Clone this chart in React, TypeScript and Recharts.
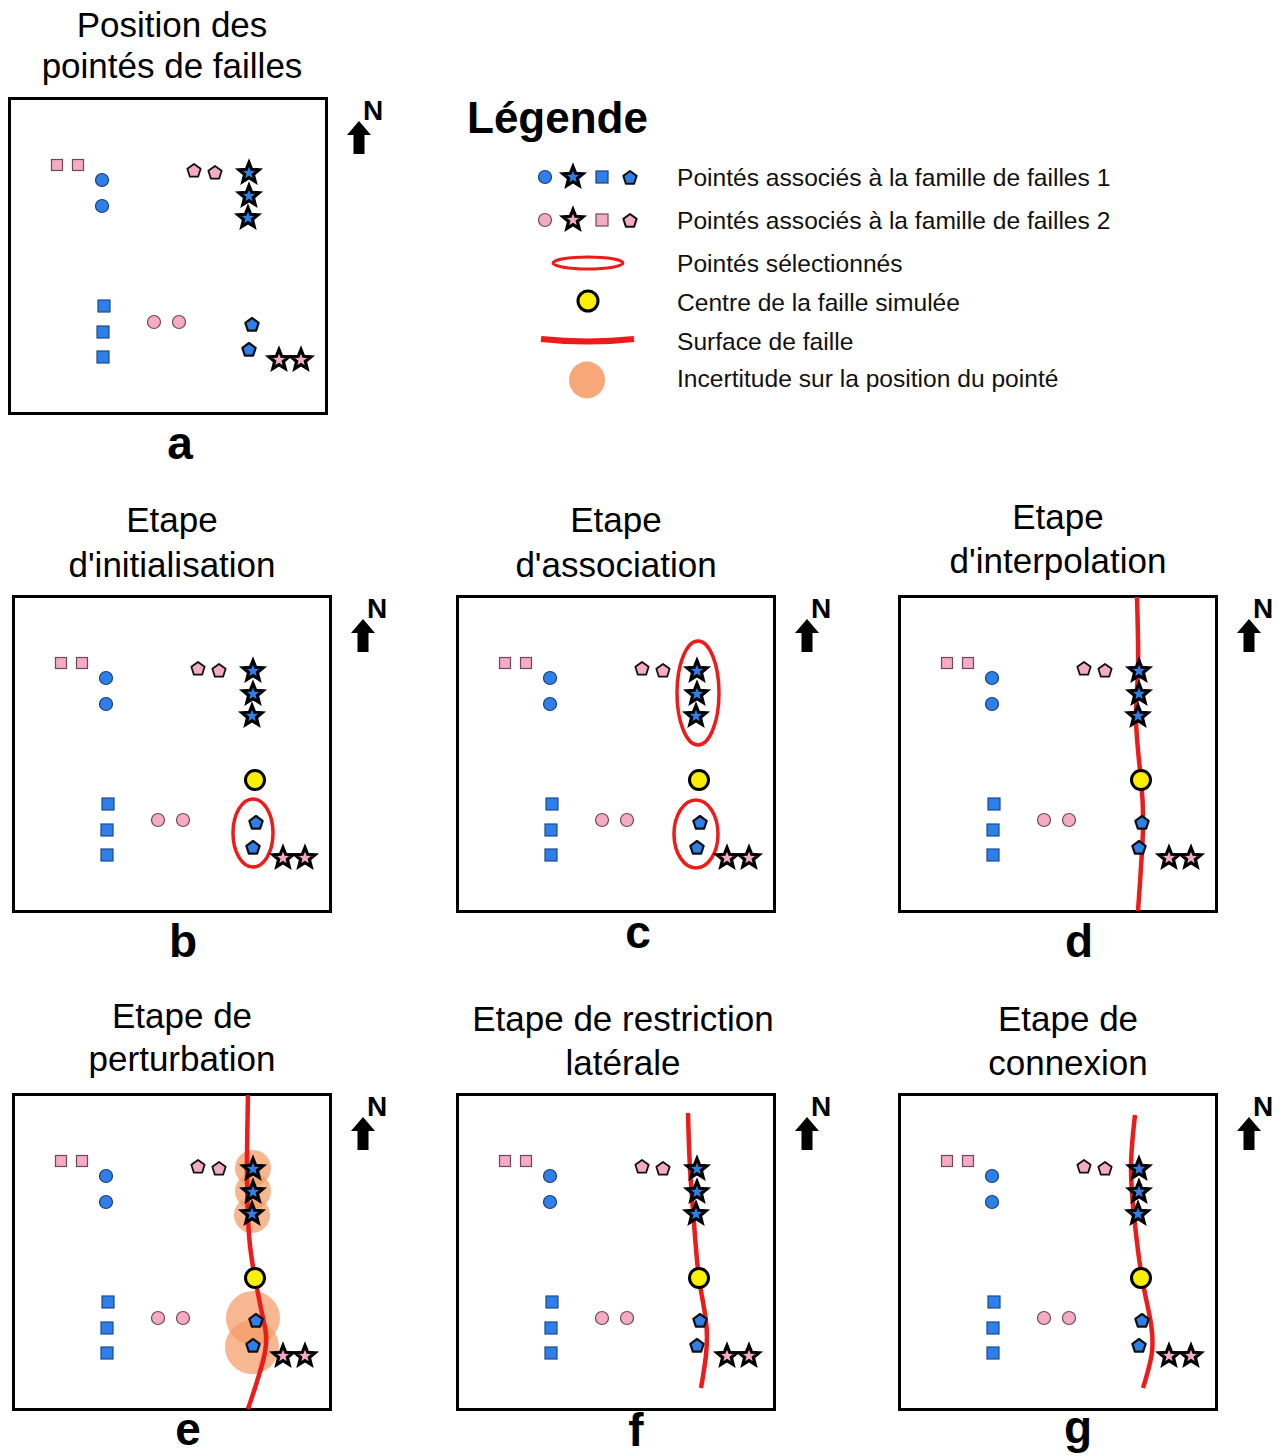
import React from 'react';
import { ComposedChart, Scatter, Line, XAxis, YAxis, ReferenceArea } from 'recharts';

// positions of the picks, in pixels from the top-left corner of each map box
const pinkSquares = [{ x: 49, y: 68 }, { x: 70, y: 68 }];
const blueCircles = [{ x: 94, y: 83 }, { x: 94, y: 109 }];
const pinkPentagons = [{ x: 186, y: 73 }, { x: 207, y: 75 }];
const blueStars = [{ x: 241, y: 76 }, { x: 241, y: 99 }, { x: 240, y: 121 }];
const blueSquares = [{ x: 96, y: 209 }, { x: 95, y: 235 }, { x: 95, y: 260 }];
const pinkCircles = [{ x: 146, y: 225 }, { x: 171, y: 225 }];
const bluePentagons = [{ x: 244, y: 227 }, { x: 241, y: 252 }];
const pinkStars = [{ x: 271, y: 263 }, { x: 293, y: 263 }];
const faultCenter = [{ x: 243, y: 185 }];

const faultD = [{ x: 239, y: 2 }, { x: 240, y: 75 }, { x: 238, y: 125 }, { x: 243, y: 185 }, { x: 245, y: 235 }, { x: 240, y: 316 }];
const faultE = [{ x: 236, y: 2 }, { x: 235, y: 75 }, { x: 237, y: 142 }, { x: 243, y: 185 }, { x: 251, y: 225 }, { x: 253, y: 259 }, { x: 236, y: 316 }];
const faultF = [{ x: 232, y: 20 }, { x: 234, y: 75 }, { x: 238, y: 130 }, { x: 243, y: 185 }, { x: 250, y: 228 }, { x: 250, y: 262 }, { x: 245, y: 295 }];
const faultG = [{ x: 237, y: 22 }, { x: 233, y: 75 }, { x: 237, y: 132 }, { x: 244, y: 185 }, { x: 252, y: 225 }, { x: 254, y: 259 }, { x: 245, y: 295 }];

const selectionB = [{ x1: 221, x2: 261, y1: 204, y2: 272 }];
const selectionC = [{ x1: 221, x2: 263, y1: 46, y2: 150 }, { x1: 218, x2: 262, y1: 205, y2: 273 }];

const uncertaintyE = [
  { x: 241, y: 75, r: 18 },
  { x: 241, y: 98, r: 18 },
  { x: 240, y: 122, r: 18 },
  { x: 241, y: 225, r: 27 },
  { x: 240, y: 254, r: 27 },
];

const legendLabels = [
  'Pointés associés à la famille de failles 1',
  'Pointés associés à la famille de failles 2',
  'Pointés sélectionnés',
  'Centre de la faille simulée',
  'Surface de faille',
  'Incertitude sur la position du pointé',
];

const BLUE = '#2F7FEA';
const PINK = '#F5AAC6';
const RED = '#EE1B1B';
const FONT = '"Liberation Sans", Arial, Helvetica, sans-serif';

function starPoints(cx: number, cy: number, R: number, r: number) {
  const pts: string[] = [];
  for (let i = 0; i < 10; i++) {
    const a = -Math.PI / 2 + (i * Math.PI) / 5;
    const rad = i % 2 === 0 ? R : r;
    pts.push(`${cx + rad * Math.cos(a)},${cy + rad * Math.sin(a)}`);
  }
  return pts.join(' ');
}

function pentPoints(cx: number, cy: number, R: number) {
  const pts: string[] = [];
  for (let i = 0; i < 5; i++) {
    const a = -Math.PI / 2 + (i * 2 * Math.PI) / 5;
    pts.push(`${cx + R * Math.cos(a)},${cy + R * Math.sin(a) + 1}`);
  }
  return pts.join(' ');
}

const circleShape = (fill: string, stroke: string) => (p: any) => (
  <circle cx={p.cx} cy={p.cy} r={6.5} fill={fill} stroke={stroke} strokeWidth={1.2} />
);
const squareShape = (fill: string, stroke: string, s: number) => (p: any) => (
  <rect x={p.cx - s / 2} y={p.cy - s / 2} width={s} height={s} fill={fill} stroke={stroke} strokeWidth={1.2} />
);
const starShape = (fill: string) => (p: any) => (
  <polygon points={starPoints(p.cx, p.cy, 10.5, 4.6)} fill={fill} stroke="#000" strokeWidth={3.2} strokeLinejoin="miter" />
);
const pentShape = (fill: string, sw: number) => (p: any) => (
  <polygon points={pentPoints(p.cx, p.cy, 7)} fill={fill} stroke="#111" strokeWidth={sw} strokeLinejoin="round" />
);
const centerShape = (p: any) => <circle cx={p.cx} cy={p.cy} r={9.5} fill="#F8F000" stroke="#000" strokeWidth={3} />;

const ringShape = (p: any) => (
  <ellipse cx={p.x + p.width / 2} cy={p.y + p.height / 2} rx={p.width / 2} ry={p.height / 2} fill="none" stroke={RED} strokeWidth={3.5} />
);
const blobShape = (p: any) => (
  <ellipse cx={p.x + p.width / 2} cy={p.y + p.height / 2} rx={p.width / 2} ry={p.height / 2} fill="#F39A62" fillOpacity={0.7} />
);

interface PanelProps {
  left: number;
  top: number;
  center?: boolean;
  fault?: { x: number; y: number }[];
  selections?: { x1: number; x2: number; y1: number; y2: number }[];
  uncertainty?: { x: number; y: number; r: number }[];
}

function Panel({ left, top, center, fault, selections = [], uncertainty = [] }: PanelProps) {
  return (
    <div style={{ position: 'absolute', left, top, width: 320, height: 318 }}>
      <div style={{ position: 'absolute', left: 0, top: 0, width: 320, height: 318, border: '3px solid #000', boxSizing: 'border-box' }} />
      <div style={{ position: 'absolute', left: 0, top: 0 }}>
        <ComposedChart width={320} height={318} margin={{ top: 0, right: 0, bottom: 0, left: 0 }}>
          <XAxis type="number" dataKey="x" domain={[0, 320]} hide allowDataOverflow />
          <YAxis type="number" dataKey="y" domain={[0, 318]} reversed hide allowDataOverflow />
          {uncertainty.map((u, i) => (
            <ReferenceArea key={`u${i}`} x1={u.x - u.r} x2={u.x + u.r} y1={u.y - u.r} y2={u.y + u.r} shape={blobShape} />
          ))}
          {fault && (
            <Line data={fault} dataKey="y" type="natural" stroke={RED} strokeWidth={4.5} dot={false} isAnimationActive={false} />
          )}
          {selections.map((s, i) => (
            <ReferenceArea key={`s${i}`} x1={s.x1} x2={s.x2} y1={s.y1} y2={s.y2} shape={ringShape} />
          ))}
          <Scatter data={pinkSquares} shape={squareShape(PINK, '#6e4a58', 11)} isAnimationActive={false} />
          <Scatter data={blueCircles} shape={circleShape(BLUE, '#1c3f78')} isAnimationActive={false} />
          <Scatter data={pinkPentagons} shape={pentShape(PINK, 1.8)} isAnimationActive={false} />
          <Scatter data={blueStars} shape={starShape(BLUE)} isAnimationActive={false} />
          <Scatter data={blueSquares} shape={squareShape(BLUE, '#1c4a90', 12)} isAnimationActive={false} />
          <Scatter data={pinkCircles} shape={circleShape(PINK, '#6e4a58')} isAnimationActive={false} />
          <Scatter data={bluePentagons} shape={pentShape(BLUE, 2.2)} isAnimationActive={false} />
          <Scatter data={pinkStars} shape={starShape(PINK)} isAnimationActive={false} />
          {center && <Scatter data={faultCenter} shape={centerShape} isAnimationActive={false} />}
        </ComposedChart>
      </div>
    </div>
  );
}

function North({ left, top }: { left: number; top: number }) {
  const x = left + 351;
  const y = top;
  return (
    <g>
      <text x={left + 355} y={top + 23} fontSize={28} fontWeight="bold" fontFamily={FONT}>N</text>
      <polygon
        points={`${x},${y + 24} ${x + 12},${y + 38} ${x + 5.5},${y + 38} ${x + 5.5},${y + 57} ${x - 5.5},${y + 57} ${x - 5.5},${y + 38} ${x - 12},${y + 38}`}
        fill="#000"
      />
    </g>
  );
}

const panels = [
  { left: 8, top: 97, title: ['Position des', 'pointés de failles'], cx: 172, b: [37, 78], letter: 'a', lx: 180, ly: 459 },
  { left: 12, top: 595, title: ['Etape', "d'initialisation"], cx: 172, b: [532, 577], letter: 'b', lx: 183, ly: 957 },
  { left: 456, top: 595, title: ['Etape', "d'association"], cx: 616, b: [532, 577], letter: 'c', lx: 638, ly: 948 },
  { left: 898, top: 595, title: ['Etape', "d'interpolation"], cx: 1058, b: [529, 573], letter: 'd', lx: 1079, ly: 957 },
  { left: 12, top: 1093, title: ['Etape de', 'perturbation'], cx: 182, b: [1028, 1071], letter: 'e', lx: 188, ly: 1445 },
  { left: 456, top: 1093, title: ['Etape de restriction', 'latérale'], cx: 623, b: [1031, 1075], letter: 'f', lx: 636, ly: 1446 },
  { left: 898, top: 1093, title: ['Etape de', 'connexion'], cx: 1068, b: [1031, 1075], letter: 'g', lx: 1078, ly: 1443 },
];

function LegendIcons() {
  const rows = [177, 220];
  const xs = [545, 573, 602, 630];
  return (
    <g>
      {rows.map((y, i) => {
        const fill = i === 0 ? BLUE : PINK;
        const edge = i === 0 ? '#1c3f78' : '#6e4a58';
        return (
          <g key={y}>
            <circle cx={xs[0]} cy={y} r={6.5} fill={fill} stroke={edge} strokeWidth={1.2} />
            <polygon points={starPoints(xs[1], y, 10.5, 4.6)} fill={fill} stroke="#000" strokeWidth={3.2} />
            <rect x={xs[2] - 6} y={y - 6} width={12} height={12} fill={fill} stroke={edge} strokeWidth={1.2} />
            <polygon points={pentPoints(xs[3], y, 7)} fill={fill} stroke="#111" strokeWidth={2} strokeLinejoin="round" />
          </g>
        );
      })}
      <ellipse cx={588} cy={263} rx={35} ry={6} fill="none" stroke={RED} strokeWidth={3} />
      <circle cx={588} cy={301} r={10} fill="#F8F000" stroke="#000" strokeWidth={3} />
      <path d="M541,339 Q588,344 634,339" fill="none" stroke={RED} strokeWidth={6} />
      <ellipse cx={587} cy={380} rx={18} ry={18.5} fill="#F8A878" />
    </g>
  );
}

export default function App() {
  return (
    <div style={{ position: 'absolute', left: 0, top: 0, width: 1284, height: 1456, background: '#fff', overflow: 'hidden' }}>
      <svg width={1284} height={1456} style={{ position: 'absolute', left: 0, top: 0 }}>
        {panels.map((p) => (
          <g key={p.letter}>
            {p.title.map((t, i) => (
              <text key={t} x={p.cx} y={p.b[i]} textAnchor="middle" fontSize={35} fontFamily={FONT} fill="#000">
                {t}
              </text>
            ))}
            <text x={p.lx} y={p.ly} textAnchor="middle" fontSize={46} fontWeight="bold" fontFamily={FONT}>
              {p.letter}
            </text>
            <North left={p.left} top={p.top} />
          </g>
        ))}
        <text x={467} y={133} fontSize={44} fontWeight="bold" fontFamily={FONT}>Légende</text>
        <LegendIcons />
        {legendLabels.map((t, i) => (
          <text key={t} x={677} y={[186, 229, 272, 311, 350, 387][i]} fontSize={24.6} fontFamily={FONT} fill="#111">
            {t}
          </text>
        ))}
      </svg>
      <Panel left={8} top={97} />
      <Panel left={12} top={595} center selections={selectionB} />
      <Panel left={456} top={595} center selections={selectionC} />
      <Panel left={898} top={595} center fault={faultD} />
      <Panel left={12} top={1093} center fault={faultE} uncertainty={uncertaintyE} />
      <Panel left={456} top={1093} center fault={faultF} />
      <Panel left={898} top={1093} center fault={faultG} />
    </div>
  );
}
